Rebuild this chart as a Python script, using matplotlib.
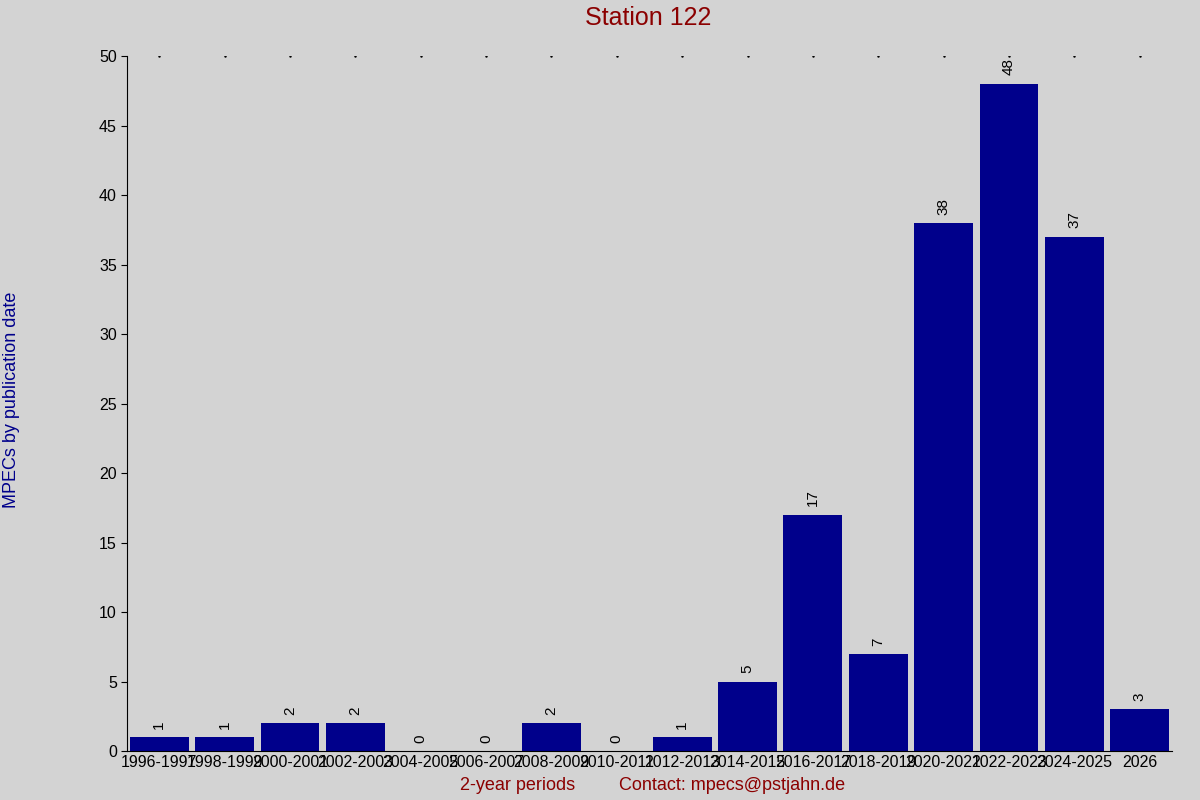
import matplotlib
matplotlib.use('Agg')
import matplotlib.pyplot as plt

plt.rcParams['font.family'] = ['Liberation Sans', 'DejaVu Sans']

periods = ['1996-1997', '1998-1999', '2000-2001', '2002-2003', '2004-2005', '2006-2007',
           '2008-2009', '2010-2011', '2012-2013', '2014-2015', '2016-2017', '2018-2019',
           '2020-2021', '2022-2023', '2024-2025', '2026']
counts = [1, 1, 2, 2, 0, 0, 2, 0, 1, 5, 17, 7, 38, 48, 37, 3]

bg = '#d3d3d3'
fig = plt.figure(figsize=(12, 8), dpi=100, facecolor=bg)
ax = fig.add_axes([0.106, 0.061, 0.871, 0.869], facecolor=bg)

x = list(range(len(periods)))
ax.bar(x, counts, width=0.9, color='#00008b')
for xi, c in zip(x, counts):
    ax.text(xi, c + 0.6, str(c), rotation=90, ha='center', va='bottom', fontsize=11)
# little dots along the top
ax.plot(x, [50] * len(x), linestyle='none', marker='.', markersize=1.5, color='black')

ax.set_xlim(-0.49, 15.5)
ax.set_ylim(0, 50)
ax.set_yticks(range(0, 51, 5))
ax.set_xticks(x)
ax.set_xticklabels(periods, fontsize=11.5)
ax.tick_params(axis='y', labelsize=11.5, length=4)
ax.tick_params(axis='x', length=0, pad=3)
for s in ['top', 'right']:
    ax.spines[s].set_visible(False)

fig.text(0.54, 0.977, 'Station 122', ha='center', va='center', fontsize=18, color='#8b0000')
fig.text(0.01, 0.5, 'MPECs by publication date', rotation=90, ha='center', va='center',
         fontsize=13, color='#00008b')
fig.text(0.431, 0.018, '2-year periods', ha='center', va='center', fontsize=13, color='#8b0000')
fig.text(0.61, 0.018, 'Contact: mpecs@pstjahn.de', ha='center', va='center', fontsize=13, color='#8b0000')

fig.savefig('out.png', dpi=100, facecolor=bg)
